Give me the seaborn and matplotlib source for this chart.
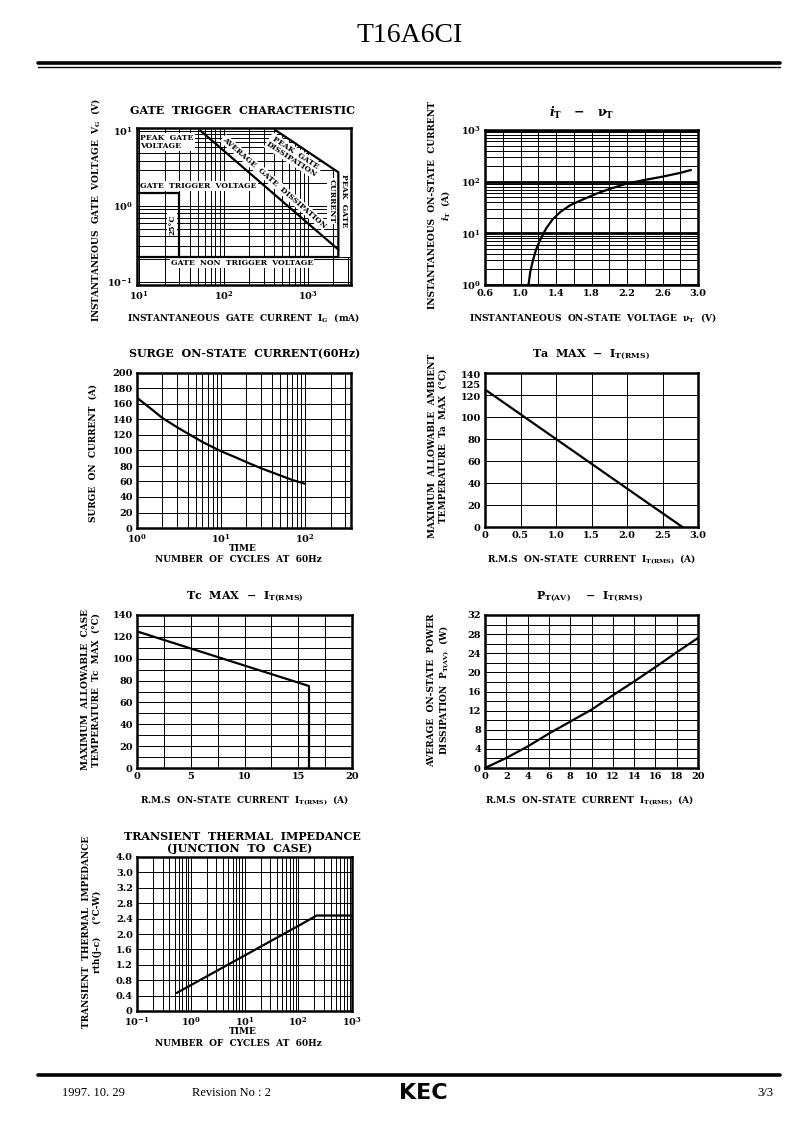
import numpy as np
import pandas as pd
import seaborn as sns
import matplotlib.pyplot as plt
from matplotlib.lines import Line2D
from matplotlib.transforms import ScaledTranslation
from matplotlib.ticker import FixedLocator, LogLocator, MultipleLocator, NullFormatter

# gate trigger characteristic (IG mA, VG V)
gate_ig_lim = [9.4, 3250]
gate_vg_lim = [0.09, 10.8]
avg_diss_ig = [53, 2300]
avg_diss_vg = [10, 0.265]
peak_diss_ig = [420, 2300]
peak_diss_vg = [10, 2.8]
peak_gate_current = 2300
gate_trigger_voltage = 1.5
gate_trigger_current = 30
gate_non_trigger_voltage = 0.21

# iT - vT
on_voltage = [1.09, 1.11, 1.14, 1.18, 1.23, 1.29, 1.36, 1.45, 1.56, 1.70, 1.85, 2.00, 2.20, 2.40, 2.60, 2.80, 2.92]
on_current = [1.0, 1.8, 3.0, 5.1, 8.0, 12.5, 18.5, 26, 35, 45, 58, 72, 92, 108, 125, 148, 168]

# surge on-state current
surge_cycles = [1, 1.5, 2, 3, 4, 6, 10, 15, 20, 30, 50, 70, 100]
surge_current = [168, 153, 142, 130, 122, 111, 99, 91, 85, 77, 68, 62, 57]

# Ta max - IT(RMS)
ta_current = [0, 1.0, 2.0, 2.78]
ta_max = [125, 80, 35, 0]
ta_ticks = [0, 20, 40, 60, 80, 100, 120, 125, 140]

# Tc max - IT(RMS)
tc_current = [0, 16, 16]
tc_max = [125, 75, 0]

# PT(AV) - IT(RMS)
pt_current = [0, 2, 4, 6, 8, 10, 12, 14, 16, 18, 20]
pt_power = [0, 2.1, 4.5, 7.2, 9.7, 12.2, 15.2, 18.1, 21.1, 24.2, 27.2]

# transient thermal impedance
zth_cycles = [0.55, 1, 10, 100, 220, 1000]
zth_value = [0.47, 0.67, 1.44, 2.21, 2.48, 2.48]
zth_ticks = [0, 0.4, 0.8, 1.2, 1.6, 2.0, 2.4, 2.8, 3.2, 3.6, 4.0]
zth_labels = ["0", "0.4", "0.8", "1.2", "1.6", "2.0", "2.4", "2.8", "3.2", "3.0", "4.0"]

sns.set_theme(style="white", rc={
    "text.color": "black", "axes.labelcolor": "black",
    "xtick.color": "black", "ytick.color": "black", "axes.edgecolor": "black",
})
plt.rcParams["font.family"] = ["DejaVu Serif"]
plt.rcParams["font.weight"] = "bold"
plt.rcParams["mathtext.fontset"] = "dejavuserif"
plt.rcParams["mathtext.default"] = "bf"

W, H = 793, 1123
fig = plt.figure(figsize=(W / 100, H / 100), dpi=100)


def box(x0, y0, x1, y1):
    return [x0 / W, 1 - y1 / H, (x1 - x0) / W, (y1 - y0) / H]


def put(x, y, s, size=6.5, **kw):
    kw.setdefault("ha", "center")
    kw.setdefault("va", "center")
    fig.text(x / W, 1 - y / H, s, fontsize=size, fontweight="bold", **kw)


def frame(ax):
    ax.tick_params(which="both", length=0, labelsize=7, pad=3)
    for sp in ax.spines.values():
        sp.set_linewidth(1.8)
        sp.set_color("black")
    ax.xaxis.remove_overlapping_locs = False
    ax.yaxis.remove_overlapping_locs = False
    ax.grid(which="both", color="black", lw=0.7)
    ax.set_axisbelow(True)
    ax.set_xlabel("")
    ax.set_ylabel("")


def log_axis(axis, decades):
    axis.set_major_locator(FixedLocator(decades))
    axis.set_minor_locator(LogLocator(subs=np.arange(1, 10), numticks=20))
    axis.set_minor_formatter(NullFormatter())


line_kw = dict(color="black", lw=1.6, sort=False, estimator=None)
note_kw = dict(fontsize=5.5, fontweight="bold", ha="center", va="center", zorder=1.5,
               bbox=dict(facecolor="white", edgecolor="none", pad=0.6))

# ---- 1. gate trigger characteristic
ax1 = fig.add_axes(box(137, 128, 351, 285))
ax1.set_xscale("log")
ax1.set_yscale("log")
ax1.set_xlim(gate_ig_lim)
ax1.set_ylim(gate_vg_lim)
log_axis(ax1.xaxis, [10, 100, 1000])
log_axis(ax1.yaxis, [0.1, 1, 10])
frame(ax1)
blank_x = [peak_diss_ig[0], peak_diss_ig[0], peak_diss_ig[1], peak_gate_current,
           peak_gate_current, gate_ig_lim[1], gate_ig_lim[1]]
blank_y = [gate_vg_lim[1], peak_diss_vg[0], peak_diss_vg[1], peak_diss_vg[1],
           gate_non_trigger_voltage, gate_non_trigger_voltage, gate_vg_lim[1]]
ax1.fill(blank_x, blank_y, color="white", zorder=1)
sns.lineplot(x=avg_diss_ig, y=avg_diss_vg, ax=ax1, **line_kw)
sns.lineplot(x=peak_diss_ig + [peak_gate_current],
             y=peak_diss_vg + [gate_non_trigger_voltage], ax=ax1, **line_kw)
sns.lineplot(x=[gate_ig_lim[0], gate_trigger_current, gate_trigger_current],
             y=[gate_trigger_voltage, gate_trigger_voltage, gate_non_trigger_voltage],
             ax=ax1, **line_kw)
sns.lineplot(x=[gate_ig_lim[0], peak_gate_current],
             y=[gate_non_trigger_voltage] * 2, ax=ax1, **line_kw)
ax1.plot([peak_gate_current, gate_ig_lim[1]], [gate_non_trigger_voltage] * 2,
         color="black", lw=0.7)
ax1.text(10.3, 9.0, "PEAK  GATE\nVOLTAGE", linespacing=1.0,
         **{**note_kw, "ha": "left", "va": "top"})
ax1.text(10.3, 1.84, "GATE  TRIGGER  VOLTAGE", **{**note_kw, "ha": "left"})
ax1.text(24.5, 0.57, "25°C", rotation=90, **note_kw)
ax1.text(23.5, 0.177, "GATE  NON  TRIGGER  VOLTAGE", **{**note_kw, "ha": "left"})
ax1.text(400, 2.05, "AVERAGE  GATE  DISSIPATION", rotation=-41,
         rotation_mode="anchor", **note_kw)
ax1.text(680, 4.6, "PEAK  GATE\nDISSIPATION", rotation=-33, linespacing=1.0,
         rotation_mode="anchor", **note_kw)
ax1.text(1930, 1.17, "CURRENT", rotation=-90, **note_kw)
ax1.text(2700, 1.17, "PEAK  GATE", rotation=-90, **note_kw)
put(243, 111, "GATE  TRIGGER  CHARACTERISTIC", size=8)
put(95, 210, "INSTANTANEOUS  GATE  VOLTAGE  V$_G$  (V)", rotation=90)
put(243, 317, "INSTANTANEOUS  GATE  CURRENT  I$_G$  (mA)")

# ---- 2. iT - vT
ax2 = fig.add_axes(box(485, 130, 698, 285))
ax2.set_yscale("log")
ax2.set_xlim(0.6, 3.0)
ax2.set_ylim(1, 1000)
ax2.set_xticks(np.arange(0.6, 3.01, 0.4))
ax2.set_xticklabels([f"{v:.1f}" for v in np.arange(0.6, 3.01, 0.4)])
ax2.xaxis.set_minor_locator(MultipleLocator(0.2))
log_axis(ax2.yaxis, [1, 10, 100, 1000])
frame(ax2)
ax2.yaxis.grid(which="major", lw=2.0)
sns.lineplot(x=on_voltage, y=on_current, ax=ax2, **line_kw)
put(582, 113, r"$\mathit{i}_{\mathbf{T}}$   $-$   $\nu_{\mathbf{T}}$", size=9)
put(440, 205, "INSTANTANEOUS  ON-STATE  CURRENT\n$\\mathit{i}_{\\mathbf{T}}$  (A)",
    rotation=90, linespacing=1.3)
put(593, 317, r"INSTANTANEOUS  ON-STATE  VOLTAGE  $\nu_{\mathbf{T}}$  (V)")

# ---- 3. surge on-state current
ax3 = fig.add_axes(box(137, 373, 351, 528))
ax3.set_xscale("log")
ax3.set_xlim(1, 350)
ax3.set_ylim(0, 200)
log_axis(ax3.xaxis, [1, 10, 100])
ax3.set_yticks(np.arange(0, 201, 20))
frame(ax3)
sns.lineplot(x=surge_cycles, y=surge_current, ax=ax3, **line_kw)
put(245, 354, "SURGE  ON-STATE  CURRENT(60Hz)", size=8)
put(93, 453, "SURGE  ON  CURRENT  (A)", rotation=90)
put(243, 548, "TIME", linespacing=1.0)
put(238, 559, "NUMBER  OF  CYCLES  AT  60Hz")

# ---- 4. Ta max
ax4 = fig.add_axes(box(485, 373, 698, 527))
ax4.set_xlim(0, 3.0)
ax4.set_ylim(0, 140)
ax4.set_xticks(np.arange(0, 3.01, 0.5))
ax4.set_xticklabels(["0", "0.5", "1.0", "1.5", "2.0", "2.5", "3.0"])
ax4.set_yticks(ta_ticks)
ax4.set_yticklabels([str(t) for t in ta_ticks])
ax4.yaxis.set_minor_locator(MultipleLocator(20))
frame(ax4)
ax4.yaxis.grid(which="major", visible=False)
ax4.yaxis.grid(which="minor", visible=True, color="black", lw=0.7)
# the 125 label sits squeezed between 120 and 140 in the reference
nudge = {"125": 5, "140": -1, "120": -1}
for lbl in ax4.get_yticklabels():
    if lbl.get_text() in nudge:
        lbl.set_transform(lbl.get_transform() + ScaledTranslation(
            0, nudge[lbl.get_text()] / 100, fig.dpi_scale_trans))
sns.lineplot(x=ta_current, y=ta_max, ax=ax4, **line_kw)
put(591, 355, "Ta  MAX  $-$  I$_{\\mathbf{T(RMS)}}$", size=8)
put(438, 446, "MAXIMUM  ALLOWABLE  AMBIENT\nTEMPERATURE  Ta  MAX  (°C)",
    rotation=90, linespacing=1.2)
put(592, 559, "R.M.S  ON-STATE  CURRENT  I$_{\\mathbf{T(RMS)}}$  (A)")

# ---- 5. Tc max
ax5 = fig.add_axes(box(137, 615, 352, 768))
ax5.set_xlim(0, 20)
ax5.set_ylim(0, 140)
ax5.set_xticks(np.arange(0, 21, 5))
ax5.xaxis.set_minor_locator(MultipleLocator(2.5))
ax5.set_yticks(np.arange(0, 141, 20))
ax5.yaxis.set_minor_locator(MultipleLocator(10))
frame(ax5)
sns.lineplot(x=tc_current, y=tc_max, ax=ax5, **line_kw)
put(245, 597, "Tc  MAX  $-$  I$_{\\mathbf{T(RMS)}}$", size=8)
put(91, 690, "MAXIMUM  ALLOWABLE  CASE\nTEMPERATURE  Tc  MAX  (°C)",
    rotation=90, linespacing=1.2)
put(245, 800, "R.M.S  ON-STATE  CURRENT  I$_{\\mathbf{T(RMS)}}$  (A)")

# ---- 6. PT(AV)
ax6 = fig.add_axes(box(485, 615, 698, 768))
ax6.set_xlim(0, 20)
ax6.set_ylim(0, 32)
ax6.set_xticks(np.arange(0, 21, 2))
ax6.set_yticks(np.arange(0, 33, 4))
ax6.yaxis.set_minor_locator(MultipleLocator(2))
frame(ax6)
sns.lineplot(x=pt_current, y=pt_power, ax=ax6, **line_kw)
put(589, 597, "P$_{\\mathbf{T(AV)}}$    $-$  I$_{\\mathbf{T(RMS)}}$", size=8)
put(439, 690, "AVERAGE  ON-STATE  POWER\nDISSIPATION  P$_{\\mathbf{T(AV)}}$  (W)",
    rotation=90, linespacing=1.2)
put(590, 800, "R.M.S  ON-STATE  CURRENT  I$_{\\mathbf{T(RMS)}}$  (A)")

# ---- 7. transient thermal impedance
ax7 = fig.add_axes(box(137, 857, 352, 1011))
ax7.set_xscale("log")
ax7.set_xlim(0.1, 1000)
ax7.set_ylim(0, 4.0)
log_axis(ax7.xaxis, [0.1, 1, 10, 100, 1000])
ax7.set_yticks(zth_ticks)
ax7.set_yticklabels(zth_labels)
frame(ax7)
sns.lineplot(x=zth_cycles, y=zth_value, ax=ax7, **line_kw)
put(242, 837, "TRANSIENT  THERMAL  IMPEDANCE", size=8)
put(240, 849, "(JUNCTION  TO  CASE)", size=8)
put(92, 932, "TRANSIENT  THERMAL  IMPEDANCE\nrth(j-c)    (°C-W)",
    rotation=90, linespacing=1.2)
put(243, 1032, "TIME")
put(238, 1043, "NUMBER  OF  CYCLES  AT  60Hz")

# ---- page header / footer
fig.text(410 / W, 1 - 35 / H, "T16A6CI", ha="center", va="center",
         fontsize=20, family="Liberation Serif", fontweight="normal")
fig.add_artist(Line2D([38 / W, 780 / W], [1 - 63 / H] * 2, lw=2.6, color="black"))
fig.add_artist(Line2D([38 / W, 780 / W], [1 - 66.5 / H] * 2, lw=1.0, color="black"))
fig.add_artist(Line2D([38 / W, 780 / W], [1 - 1075 / H] * 2, lw=2.6, color="black"))
for x, s in [(62, "1997. 10. 29"), (192, "Revision No : 2")]:
    fig.text(x / W, 1 - 1093 / H, s, ha="left", va="center", fontsize=9,
             family="Liberation Serif", fontweight="normal")
fig.text(773 / W, 1 - 1093 / H, "3/3", ha="right", va="center", fontsize=9,
         family="Liberation Serif", fontweight="normal")
fig.text(423 / W, 1 - 1093 / H, "KEC", ha="center", va="center", fontsize=16,
         family="DejaVu Sans", fontweight="heavy")

fig.savefig("out.png", dpi=100)
